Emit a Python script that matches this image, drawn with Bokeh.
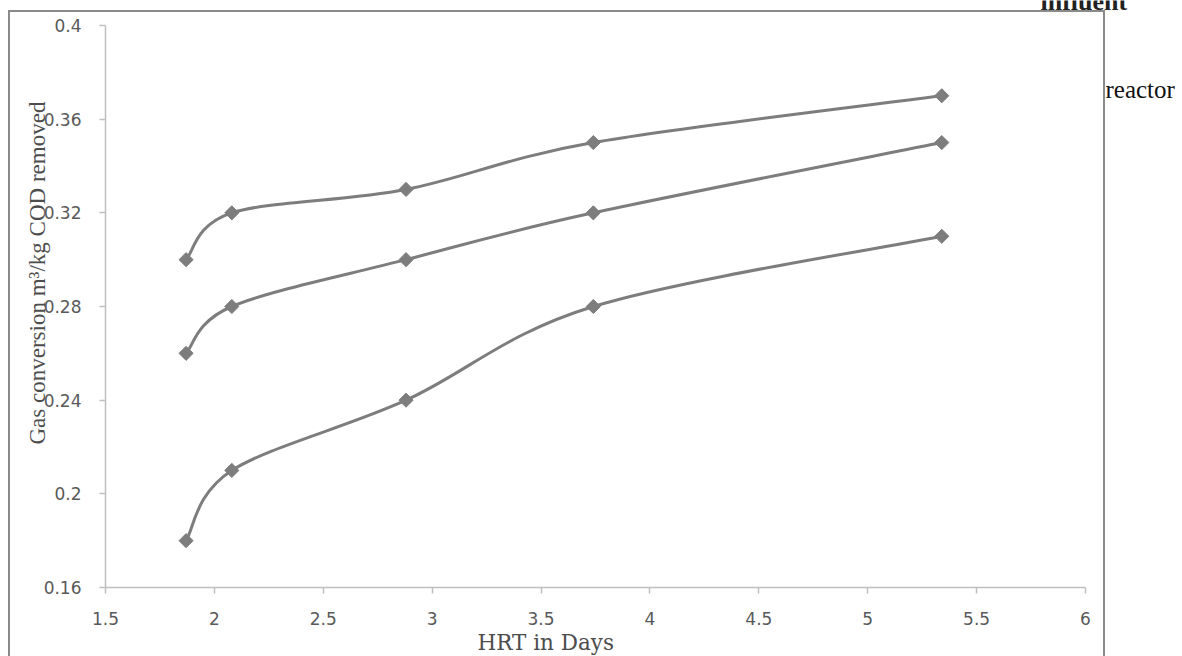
import math
from bokeh.plotting import figure
from bokeh.models import (Range1d, FixedTicker, NumeralTickFormatter, Label,
                          ColumnDataSource, Title)
from bokeh.embed import file_html
from bokeh.resources import INLINE

# ---------------- data ----------------
hrt_days = [1.87, 2.08, 2.88, 3.74, 5.34]
series_top = [0.30, 0.32, 0.33, 0.35, 0.37]
series_mid = [0.26, 0.28, 0.30, 0.32, 0.35]
series_bot = [0.18, 0.21, 0.24, 0.28, 0.31]
x_ticks = [1.5, 2, 2.5, 3, 3.5, 4, 4.5, 5, 5.5, 6]
y_ticks = [0.16, 0.2, 0.24, 0.28, 0.32, 0.36, 0.4]
x_title = "HRT in Days"
y_title = "Gas conversion m\u00b3/kg COD removed"
label_influent = "influent"
label_reactor = "reactor"

LINE = "#7d7d7d"
AXIS = "#bfbfbf"

W, H = 1182, 656
# plot-area placement in pixels (axes live at left=105, bottom=587;
# the value 6 sits at 1085 px, 0.4 at 25 px)
AX_L, AX_R, AX_T, AX_B = 105, 1085, 25, 587
x0, x1 = x_ticks[0], x_ticks[-1]
y0, y1 = y_ticks[0], y_ticks[-1]
x_end = x0 + (W - AX_L) * (x1 - x0) / (AX_R - AX_L)
y_end = y0 + AX_B * (y1 - y0) / (AX_B - AX_T)

border_css = (":host { position: relative; } "
              ":host::after { content: ''; position: absolute; left: 8px; top: 10px; "
              "width: 1097px; height: 646px; box-sizing: border-box; "
              "border: 2px solid #8a8a8a; border-bottom: none; "
              "pointer-events: none; }")

p = figure(width=W, height=H, output_backend="svg", toolbar_location=None,
           title=None,
           x_range=Range1d(x0, x_end), y_range=Range1d(y0, y_end),
           min_border_left=AX_L, min_border_right=0,
           min_border_top=0, min_border_bottom=H - AX_B,
           stylesheets=[border_css])
p.outline_line_color = None
p.xgrid.visible = False
p.ygrid.visible = False
p.background_fill_color = "white"
p.border_fill_color = "white"

for ax in (p.xaxis[0], p.yaxis[0]):
    ax.axis_line_color = AXIS
    ax.axis_line_width = 1.5
    ax.major_tick_line_color = AXIS
    ax.major_tick_line_width = 1.5
    ax.major_tick_in = 0
    ax.major_tick_out = 6
    ax.minor_tick_line_color = None
    ax.major_label_text_font = "DejaVu Sans"
    ax.major_label_text_font_size = "17px"
    ax.major_label_text_color = "#595959"

p.xaxis.ticker = FixedTicker(ticks=x_ticks)
p.yaxis.ticker = FixedTicker(ticks=y_ticks)
p.xaxis.bounds = (x0, x1)
p.yaxis.bounds = (y0, y1)
p.xaxis.formatter = NumeralTickFormatter(format="0.[0]")
p.yaxis.formatter = NumeralTickFormatter(format="0.[00]")
p.xaxis.major_label_standoff = 18
p.yaxis.major_label_standoff = 18


def smooth_segments(xs, ys):
    """Bezier control points of a Catmull-Rom style smoothed line (Excel-like)."""
    n = len(xs)
    d = dict(x0=[], y0=[], x1=[], y1=[], cx0=[], cy0=[], cx1=[], cy1=[])
    for i in range(n - 1):
        i0 = max(i - 1, 0)
        i3 = min(i + 2, n - 1)
        d["x0"].append(xs[i]); d["y0"].append(ys[i])
        d["x1"].append(xs[i + 1]); d["y1"].append(ys[i + 1])
        d["cx0"].append(xs[i] + (xs[i + 1] - xs[i0]) / 6.0)
        d["cy0"].append(ys[i] + (ys[i + 1] - ys[i0]) / 6.0)
        d["cx1"].append(xs[i + 1] - (xs[i3] - xs[i]) / 6.0)
        d["cy1"].append(ys[i + 1] - (ys[i3] - ys[i]) / 6.0)
    return ColumnDataSource(d)


for ys in (series_top, series_mid, series_bot):
    src = smooth_segments(hrt_days, ys)
    p.bezier(x0="x0", y0="y0", x1="x1", y1="y1", cx0="cx0", cy0="cy0",
             cx1="cx1", cy1="cy1", source=src, line_color=LINE, line_width=3,
             line_cap="round")
    p.scatter(hrt_days, ys, marker="square", size=10, angle=math.pi / 4,
              fill_color=LINE, line_color=LINE, line_width=1)

p.add_layout(Title(text=x_title, align="left", offset=477 - AX_L,
                   standoff=0, text_font="DejaVu Serif", text_font_size="21.5px",
                   text_font_style="normal", text_color="#4d4d4d"), "below")
p.add_layout(Title(text=y_title, align="left", offset=143,
                   standoff=-18, text_font="Liberation Serif", text_font_size="23px",
                   text_font_style="normal", text_color="#4d4d4d"), "left")

p.add_layout(Label(x=1105 - AX_L, y=AX_B - 97 + 8, x_units="screen", y_units="screen",
                   text=label_reactor, text_align="left", text_baseline="alphabetic",
                   text_font="Liberation Serif", text_font_size="25px",
                   text_color="#111111"))
p.add_layout(Label(x=1040 - AX_L, y=AX_B - 10 + 9, x_units="screen", y_units="screen",
                   text=label_influent, text_align="left", text_baseline="alphabetic",
                   text_font="Liberation Serif", text_font_style="bold",
                   text_font_size="26px", text_color="#222222"))

open("out.html", "w").write(file_html(p, INLINE))
